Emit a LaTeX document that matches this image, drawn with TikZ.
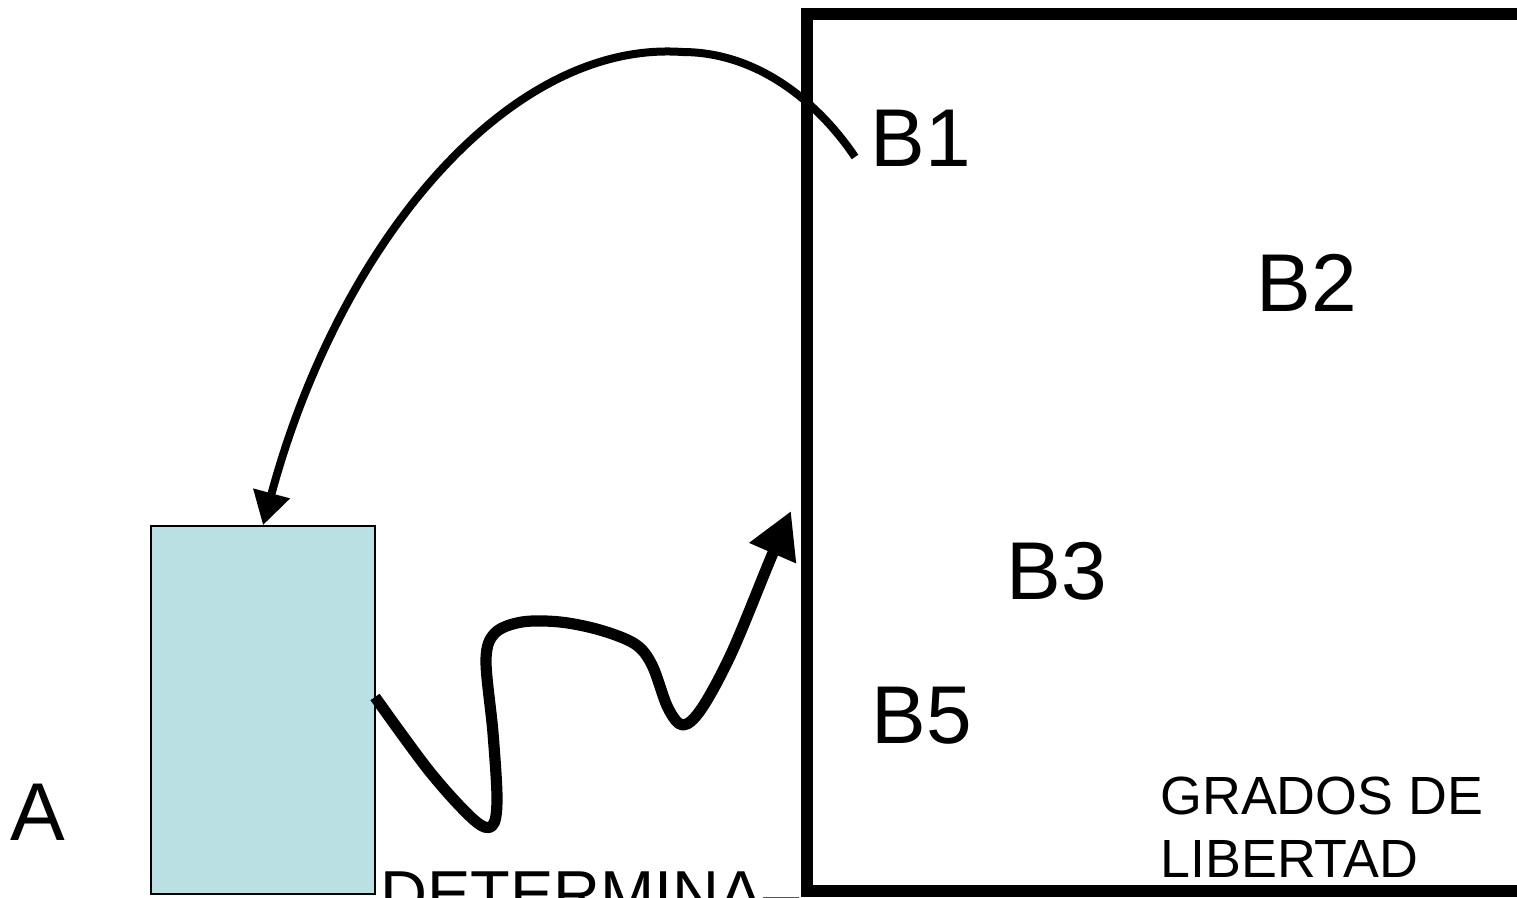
\documentclass[tikz,border=0pt]{standalone}
\usepackage{fontspec}
\setmainfont{Liberation Sans}
\usetikzlibrary{arrows.meta}
\definecolor{boxblue}{HTML}{BBE0E3}
\tikzset{
  lbl/.style={inner sep=0pt, anchor=base west, font=\fontsize{41}{49}\selectfont},
  smalllbl/.style={inner sep=0pt, anchor=base west, font=\fontsize{26.9}{32}\selectfont},
  bluebox/.style={draw=black, fill=boxblue, line width=0.75pt, inner sep=0pt, minimum width=112pt, minimum height=184pt},
  bigframe/.style={draw=black, line width=6.25pt},
  curvearrow/.style={draw=black, line width=4pt, -{Triangle[length=16.5pt,width=18pt]}},
  squig/.style={draw=black, line width=5.6pt, line join=round, -{Triangle[length=23pt,width=24pt]}}
}
\begin{document}
\begin{tikzpicture}[x=0.5pt,y=-0.5pt]
\useasboundingbox (0,0) rectangle (1517,898);
\clip (0,0) rectangle (1517,898);
\fill[white] (0,0) rectangle (1517,898);
% texts
\node[inner sep=0pt, anchor=base west, font=\fontsize{32.5}{39}\selectfont] (det) at (380,916) {DETERMINA–};
% blue box
\node[bluebox] (blue) at (263,710) {};
% big frame
\coordinate (f1) at (1540,14);
\coordinate (f2) at (807,14);
\coordinate (f3) at (807,891);
\coordinate (f4) at (1540,891);
\draw[bigframe] (f1) -- (f2) -- (f3) -- (f4);
% labels
\node[lbl] (B1) at (870,167) {B1};
\node[lbl] (B2) at (1256,312) {B2};
\node[lbl] (B3) at (1006,600) {B3};
\node[lbl] (B5) at (871,743) {B5};
\node[lbl] (A) at (10,840) {A};
\node[smalllbl] (g1) at (1160,814) {GRADOS DE};
\node[smalllbl] (g2) at (1160,877) {LIBERTAD};
% curved arrow from B1 to blue box
\coordinate (b1s) at (855,157);
\coordinate (peak) at (682,52);
\draw[curvearrow] (b1s) .. controls (825,112) and (765,52) .. (peak)
   .. controls (510,40) and (340,240) .. (blue.north);
% squiggly arrow
\coordinate (sqs) at (375,697);
\coordinate (sqe) at (791,511);
\draw[squig] plot[smooth, tension=0.55] coordinates {(sqs) (430,772) (474,820) (492,826) (497,800) (493,733) (486,660) (495,633) (522,622) (560,622) (600,630) (635,644) (652,665) (668,708) (683,725) (702,708) (732,652) (770,560) (sqe)};
\end{tikzpicture}
\end{document}
